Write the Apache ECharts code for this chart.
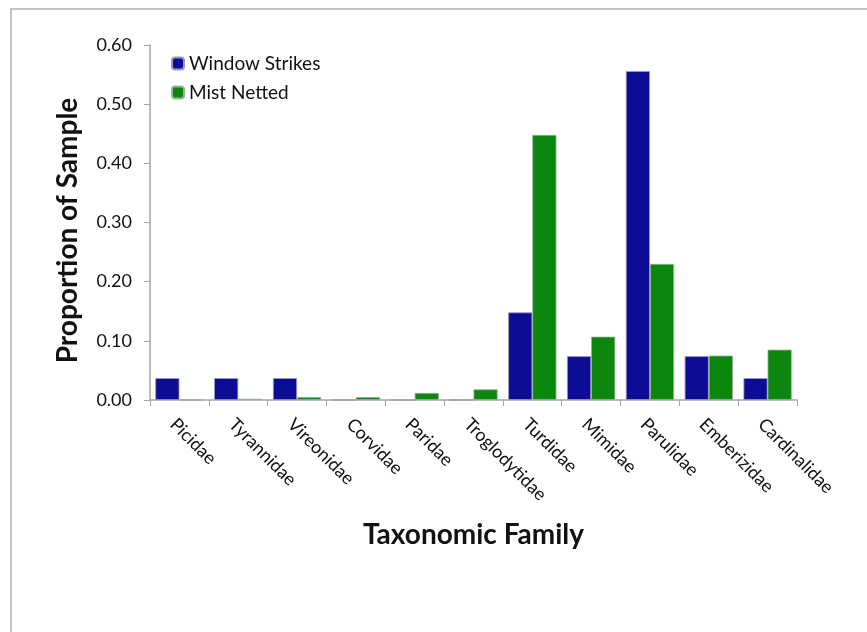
<!DOCTYPE html>
<html>
<head>
<meta charset="utf-8">
<script src="https://cdn.jsdelivr.net/npm/echarts@6/dist/echarts.min.js"></script>
<style>
html,body{margin:0;padding:0;background:#fff;}
#frame{position:absolute;left:10px;top:8px;width:857px;height:624px;border-left:2px solid #c4c4c4;border-top:2px solid #c4c4c4;box-sizing:border-box;}
#chart{position:absolute;left:0;top:0;width:867px;height:632px;}
</style>
</head>
<body>
<div id="frame"></div>
<div id="chart"></div>
<script>
const categories = ['Picidae','Tyrannidae','Vireonidae','Corvidae','Paridae','Troglodytidae','Turdidae','Mimidae','Parulidae','Emberizidae','Cardinalidae'];
const windowStrikes = [0.037, 0.037, 0.037, 0, 0, 0, 0.148, 0.074, 0.556, 0.074, 0.037];
const mistNetted = [0, 0.002, 0.005, 0.005, 0.012, 0.018, 0.448, 0.107, 0.230, 0.075, 0.085];
const yTicks = [0, 0.1, 0.2, 0.3, 0.4, 0.5, 0.6];

const FONT = 'Lato';
const chart = echarts.init(document.getElementById('chart'));
chart.setOption({
  backgroundColor: 'transparent',
  animation: false,
  legend: {
    orient: 'vertical', left: 166, top: 49, itemGap: 10,
    itemWidth: 12, itemHeight: 12,
    textStyle: {fontFamily: FONT, fontSize: 19, color: '#111'},
    data: ['Window Strikes', 'Mist Netted']
  },
  grid: {left: 150, right: 70, top: 45, bottom: 232, containLabel: false},
  xAxis: {
    type: 'category', data: categories,
    name: 'Taxonomic Family', nameLocation: 'middle', nameGap: 121,
    nameTextStyle: {fontFamily: FONT, fontSize: 28, fontWeight: 'bold', color: '#111'},
    axisLine: {lineStyle: {color: '#a6a6a6', width: 1.5}},
    axisTick: {show: true, length: 6, lineStyle: {color: '#a6a6a6'}},
    axisLabel: {rotate: -45, margin: 15, verticalAlign: 'top', fontFamily: FONT, fontSize: 18, color: '#111', interval: 0}
  },
  yAxis: {
    type: 'value', min: 0, max: 0.6, interval: 0.1,
    name: 'Proportion of Sample', nameLocation: 'middle', nameGap: 68,
    nameTextStyle: {fontFamily: FONT, fontSize: 28, fontWeight: 'bold', color: '#111', padding: [0, 16, 0, 0]},
    axisLine: {show: true, lineStyle: {color: '#a6a6a6', width: 1.5}},
    axisTick: {show: true, length: 6, lineStyle: {color: '#a6a6a6'}},
    splitLine: {show: false},
    axisLabel: {margin: 18, fontFamily: FONT, fontSize: 18, color: '#111',
      formatter: v => v.toFixed(2)}
  },
  series: [
    {
      name: 'Window Strikes', type: 'bar', data: windowStrikes,
      barGap: '0%', barCategoryGap: '18%',
      itemStyle: {
        color: '#0c0c96', borderColor: '#9a9ab0', borderWidth: 0.8
      }
    },
    {
      name: 'Mist Netted', type: 'bar', data: mistNetted,
      itemStyle: {
        color: '#0a870c', borderColor: '#9ab09a', borderWidth: 0.8
      }
    }
  ]
});
</script>
</body>
</html>
